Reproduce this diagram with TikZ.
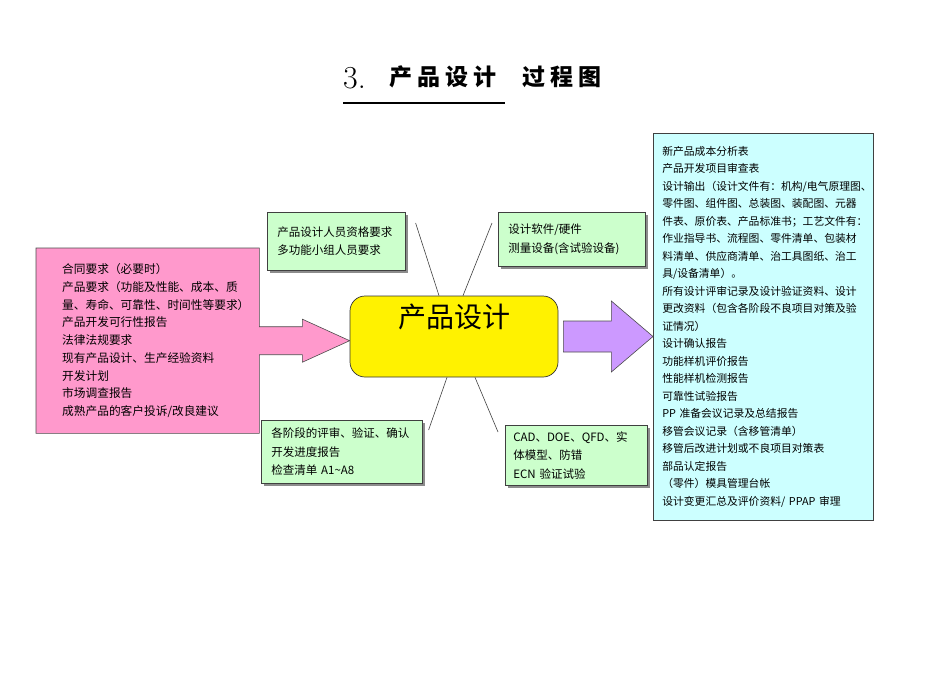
\documentclass[tikz,border=0pt]{standalone}
\usepackage{fontspec}
\usetikzlibrary{shadows,backgrounds}

\newfontfamily\cjk{Noto Sans CJK SC}
\newfontfamily\cjktitle[LetterSpace=22]{Noto Sans CJK SC}

\definecolor{pinkfill}{HTML}{FF99CC}
\definecolor{greenfill}{HTML}{CCFFCC}
\definecolor{cyanfill}{HTML}{CCFFFF}
\definecolor{purplefill}{HTML}{CC99FF}

\begin{document}
\begin{tikzpicture}[x=1pt, y=-1pt,
  box/.style={anchor=north west, inner ysep=0pt, align=left},
  greenbox/.style={box, draw=black!75, line width=0.6pt, fill=greenfill,
    font=\cjk\fontsize{11.5}{18.5}\selectfont,
    drop shadow={shadow xshift=3pt, shadow yshift=-3pt, fill=black!45, opacity=1}},
  spoke/.style={draw=black!75, line width=0.6pt}]

\useasboundingbox (0,0) rectangle (950,672);

% --- Titolo ---
\node[anchor=base west, inner sep=0pt, font=\fontsize{32}{32}\selectfont] (num) at (343,88) {3.};
\node[anchor=base west, inner sep=0pt, font=\cjktitle\bfseries\fontsize{23}{23}\selectfont] (title) at (389,85) {产品设计\hspace{26pt}过程图};
\draw[line width=2pt] (343,103) -- (505,103);

% --- Nodo centrale ---
\node[draw=black!80, line width=0.7pt, fill=yellow, rounded corners=15pt, inner sep=0pt,
      minimum width=208pt, minimum height=81pt, text height=22pt, text depth=40pt,
      font=\cjk\fontsize{28}{28}\selectfont] (core) at (454,336.5) {产品设计};

% --- Ingressi ---
\node[box, minimum width=223pt, minimum height=185pt, inner xsep=26pt, text width=171pt,
      font=\cjk\fontsize{11.7}{17.7}\selectfont] (inputs) at (36,248)
  {合同要求（必要时）\\
   产品要求（功能及性能、成本、质\\
   量、寿命、可靠性、时间性等要求）\\
   产品开发可行性报告\\
   法律法规要求\\
   现有产品设计、生产经验资料\\
   开发计划\\
   市场调查报告\\
   成熟产品的客户投诉/改良建议};

% --- Uscite ---
\node[box, draw=black!75, line width=0.6pt, fill=cyanfill, minimum width=220pt, minimum height=387pt,
      inner xsep=9pt, text width=202pt, font=\cjk\fontsize{10.8}{17.5}\selectfont] (outputs) at (653,133)
  {新产品成本分析表\\
   产品开发项目审查表\\
   设计输出（设计文件有：机构/电气原理图、\\
   零件图、组件图、总装图、装配图、元器\\
   件表、原价表、产品标准书；工艺文件有：\\
   作业指导书、流程图、零件清单、包装材\\
   料清单、供应商清单、治工具图纸、治工\\
   具/设备清单）。\\
   所有设计评审记录及设计验证资料、设计\\
   更改资料（包含各阶段不良项目对策及验\\
   证情况）\\
   设计确认报告\\
   功能样机评价报告\\
   性能样机检测报告\\
   可靠性试验报告\\
   PP 准备会议记录及总结报告\\
   移管会议记录（含移管清单）\\
   移管后改进计划或不良项目对策表\\
   部品认定报告\\
   （零件）模具管理台帐\\
   设计变更汇总及评价资料/ PPAP 审理};

% --- Risorse e metodi ---
\node[greenbox, minimum width=138pt, minimum height=58pt, inner xsep=10pt, text width=118pt] (staff) at (267,212)
  {产品设计人员资格要求\\多功能小组人员要求};
\node[greenbox, minimum width=147pt, minimum height=54pt, inner xsep=10pt, text width=127pt] (tools) at (498,212)
  {设计软件/硬件\\测量设备(含试验设备)};
\node[greenbox, minimum width=161pt, minimum height=63pt, inner xsep=10pt, text width=141pt] (review) at (261,420)
  {各阶段的评审、验证、确认\\开发进度报告\\检查清单 A1\textasciitilde A8};
\node[greenbox, minimum width=142pt, minimum height=60pt, inner xsep=8pt, text width=126pt] (method) at (505,425)
  {CAD、DOE、QFD、实\\体模型、防错\\ECN 验证试验};

% --- Frecce ---
\begin{scope}[on background layer]
\draw[fill=pinkfill, draw=black!70, line width=0.6pt]
  (inputs.north west) -- (inputs.north east) -- ([shift={(0,-14)}]inputs.east) -- ++(43,0) -- ++(0,-7.5)
  -- (core.west |- inputs.east) -- ([shift={(43,21.5)}]inputs.east) -- ++(0,-7.5)
  -- ([shift={(0,14)}]inputs.east) -- (inputs.south east) -- (inputs.south west) -- cycle;
\end{scope}
\draw[fill=purplefill, draw=black!70, line width=0.6pt]
  ([shift={(5,-15.5)}]core.east) -- ++(48,0) -- ++(0,-20) -- (outputs.west |- core.east)
  -- ([shift={(53,35.5)}]core.east) -- ++(0,-20) -- ([shift={(5,15.5)}]core.east) -- cycle;

% --- Linee di collegamento ---
\coordinate (staffend) at ([shift={(10,11)}]staff.north east);
\coordinate (toolsend) at ([shift={(-6,11)}]tools.north west);
\coordinate (reviewend) at ([shift={(6,10)}]review.north east);
\coordinate (methodend) at ([shift={(-7,7)}]method.north west);
\coordinate (coretl) at ([shift={(-15,0)}]core.north);
\coordinate (coretr) at ([shift={(9,0)}]core.north);
\coordinate (corebl) at ([shift={(-7,0)}]core.south);
\coordinate (corebr) at ([shift={(21,0)}]core.south);
\foreach \s/\t in {staffend/coretl, toolsend/coretr, reviewend/corebl, methodend/corebr}{
  \draw[spoke] (\s) -- (\t);
}

\end{tikzpicture}
\end{document}
